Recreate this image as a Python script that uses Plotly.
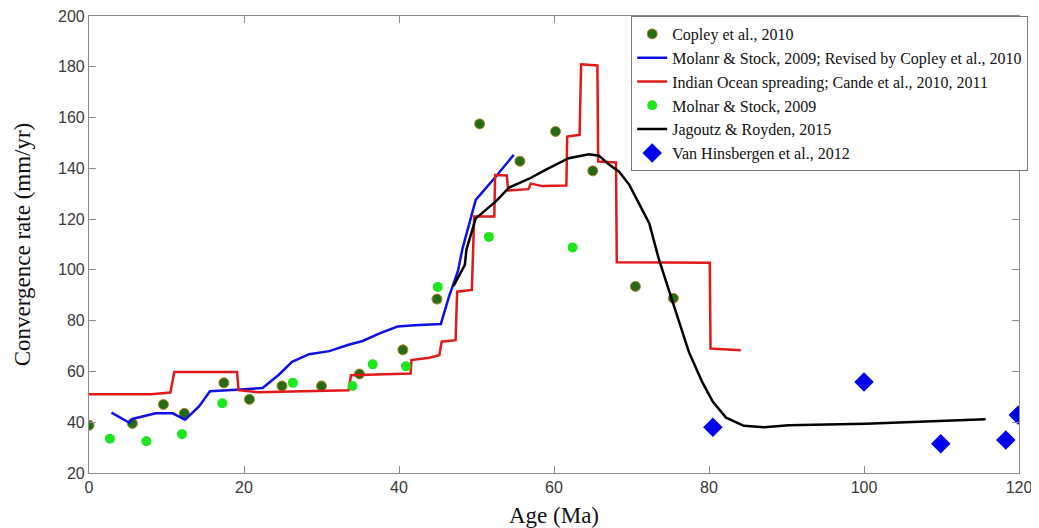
import plotly.graph_objects as go

# ---- data ----
copley_age = [0.0, 5.6, 9.6, 12.3, 17.4, 20.7, 24.9, 30.0, 34.9, 40.5, 44.9, 50.4, 55.6, 60.2, 65.0, 70.5, 75.4]
copley_rate = [38.8, 39.5, 47.0, 43.5, 55.5, 49.0, 54.3, 54.3, 59.0, 68.5, 88.5, 157.5, 142.8, 154.5, 139.0, 93.5, 88.8]

molnar_age = [2.7, 7.4, 12.0, 17.2, 26.3, 34.0, 36.6, 40.9, 45.0, 51.6, 62.4]
molnar_rate = [33.5, 32.5, 35.3, 47.5, 55.5, 54.3, 62.8, 62.0, 93.3, 113.0, 108.8]

vanh_age = [80.5, 100.0, 109.9, 118.3, 119.9]
vanh_rate = [38.0, 55.8, 31.5, 33.0, 42.8]

revised_age = [2.9, 5.2, 5.6, 8.6, 10.8, 12.4, 14.2, 15.6, 19.0, 22.4, 24.5, 26.2, 28.4, 31.0, 33.5, 35.3,
               37.5, 39.8, 42.0, 45.4, 46.5, 47.6, 48.2, 49.9, 52.5, 54.8]
revised_rate = [43.8, 39.8, 41.3, 43.5, 43.5, 41.0, 46.2, 52.2, 52.8, 53.5, 58.7, 63.8, 66.8, 68.0, 70.5, 72.0,
                75.0, 77.7, 78.2, 78.7, 90.0, 99.5, 108.5, 127.6, 136.8, 145.3]

spreading_age = [0.0, 8.0, 10.5, 11.0, 19.1, 19.3, 21.8, 33.5, 33.8, 37.4, 41.5, 41.6, 43.9, 45.2, 45.5, 47.3,
                 47.5, 49.4, 49.7, 52.3, 52.4, 53.9, 54.1, 56.7, 57.0, 58.5, 61.6, 61.7, 63.3, 63.5, 65.6,
                 65.7, 68.0, 68.1, 80.1, 80.2, 84.1]
spreading_rate = [51.0, 51.0, 51.7, 59.8, 59.8, 52.6, 51.8, 52.6, 58.5, 58.9, 59.2, 64.5, 65.4, 66.4, 71.7, 72.3,
                  91.4, 92.1, 121.0, 121.0, 137.4, 137.2, 131.3, 131.8, 134.0, 133.0, 133.2, 152.5, 153.2, 181.0, 180.5,
                  142.7, 142.3, 103.0, 102.8, 69.0, 68.3]

jagoutz_age = [47.0, 48.5, 48.7, 49.9, 52.5, 54.2, 56.8, 58.9, 61.9, 64.5, 65.8, 67.1, 68.4, 69.7, 72.3, 73.5,
               75.3, 76.8, 77.4, 79.1, 80.5, 82.2, 84.5, 87.1, 90.3, 100.2, 109.7, 115.7]
jagoutz_rate = [93.5, 102.0, 108.0, 120.3, 127.0, 132.4, 135.9, 139.4, 144.0, 145.5, 145.0, 141.5, 138.7, 133.6,
                118.3, 104.5, 87.5, 73.0, 67.7, 56.0, 48.0, 41.8, 38.6, 38.0, 38.8, 39.4, 40.5, 41.2]

x_ticks = [0, 20, 40, 60, 80, 100, 120]
y_ticks = [20, 40, 60, 80, 100, 120, 140, 160, 180, 200]

fig = go.Figure()

fig.add_trace(go.Scatter(
    x=copley_age, y=copley_rate, mode="markers", name="Copley et al., 2010",
    marker=dict(color="#236b14", size=10, line=dict(color="#b7822e", width=1))))
fig.add_trace(go.Scatter(
    x=revised_age, y=revised_rate, mode="lines",
    name="Molanr & Stock, 2009; Revised by Copley et al., 2010",
    line=dict(color="#1010e6", width=2.5)))
fig.add_trace(go.Scatter(
    x=spreading_age, y=spreading_rate, mode="lines",
    name="Indian Ocean spreading; Cande et al., 2010, 2011",
    line=dict(color="#e01a1a", width=2.5)))
fig.add_trace(go.Scatter(
    x=molnar_age, y=molnar_rate, mode="markers", name="Molnar & Stock, 2009",
    marker=dict(color="#1ee61e", size=10)))
fig.add_trace(go.Scatter(
    x=jagoutz_age, y=jagoutz_rate, mode="lines", name="Jagoutz & Royden, 2015",
    line=dict(color="#000000", width=2.5)))
fig.add_trace(go.Scatter(
    x=vanh_age, y=vanh_rate, mode="markers", name="Van Hinsbergen et al., 2012",
    marker=dict(color="#0000ee", symbol="diamond", size=15)))

axis_common = dict(
    showline=True, linecolor="#8c8c8c", linewidth=1.2, mirror="ticks",
    ticks="inside", ticklen=7, tickcolor="#8c8c8c", showgrid=False, zeroline=False,
    automargin=False, ticklabeloverflow="allow",
    tickfont=dict(family="Liberation Sans, Arial", size=16, color="#3a3a3a"),
)

# the page body adds an 8px offset, so the figure is sized to fit the window
fig.update_layout(
    width=1031, height=520,
    margin=dict(l=81, r=20, t=8, b=55),
    paper_bgcolor="white", plot_bgcolor="white",
    xaxis=dict(range=[0, 120], tickvals=x_ticks, **axis_common,
               title=dict(text="Age (Ma)", standoff=14,
                          font=dict(family="Liberation Serif, Times New Roman", size=23, color="#111"))),
    yaxis=dict(range=[20, 200], tickvals=y_ticks, **axis_common,
               title=dict(text="Convergence rate (mm/yr)", standoff=20,
                          font=dict(family="Liberation Serif, Times New Roman", size=23, color="#111"))),
    legend=dict(x=0.583, y=1.0, xanchor="left", yanchor="top",
                bgcolor="white", bordercolor="#7a7a7a", borderwidth=1,
                font=dict(family="Liberation Serif, Times New Roman", size=16, color="#111"),
                itemwidth=30, tracegroupgap=0),
    showlegend=True,
)

fig.write_html("out.html")
